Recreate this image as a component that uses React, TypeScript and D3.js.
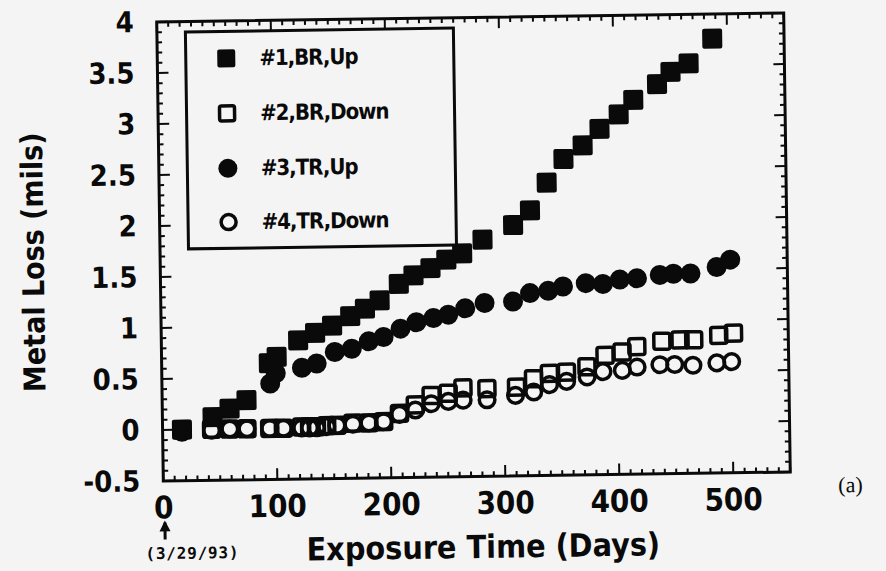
import React from "react";
import * as d3 from "d3";

// ---- data (days, metal loss in mils) ----
const days1 = [17, 44, 59, 74, 94, 101, 120, 135, 150, 166, 179, 192, 209, 222, 237, 251, 265, 283, 310, 325, 340, 355, 372, 387, 404, 417, 438, 450, 466, 487];
const loss1 = [0.0, 0.12, 0.2, 0.28, 0.64, 0.7, 0.86, 0.93, 1.0, 1.09, 1.16, 1.24, 1.4, 1.48, 1.55, 1.63, 1.69, 1.82, 1.96, 2.1, 2.37, 2.6, 2.73, 2.89, 3.03, 3.17, 3.32, 3.44, 3.52, 3.76];

const days2 = [17, 43, 59, 74, 94, 106, 122, 129, 135, 144, 153, 167, 181, 194, 208, 222, 236, 251, 264, 285, 311, 326, 340, 355, 373, 389, 404, 417, 439, 455, 467, 489, 502];
const loss2 = [0.0, 0.0, 0.0, 0.0, 0.0, 0.0, 0.01, 0.01, 0.01, 0.02, 0.02, 0.04, 0.04, 0.05, 0.13, 0.21, 0.3, 0.32, 0.37, 0.36, 0.37, 0.45, 0.5, 0.51, 0.56, 0.67, 0.7, 0.75, 0.8, 0.81, 0.81, 0.85, 0.87];

const days3 = [17, 95, 100, 123, 136, 152, 167, 182, 195, 210, 224, 239, 252, 267, 284, 309, 324, 340, 353, 373, 388, 403, 418, 438, 450, 465, 488, 500];
const loss3 = [-0.02, 0.44, 0.54, 0.59, 0.63, 0.74, 0.77, 0.84, 0.88, 0.96, 1.02, 1.06, 1.09, 1.15, 1.2, 1.21, 1.29, 1.31, 1.35, 1.38, 1.37, 1.41, 1.42, 1.45, 1.46, 1.46, 1.52, 1.59];

const days4 = [17, 43, 59, 74, 94, 106, 122, 129, 135, 144, 153, 167, 181, 194, 208, 222, 236, 251, 264, 285, 310, 326, 340, 355, 373, 387, 404, 417, 437, 450, 466, 487, 500];
const loss4 = [0.0, -0.01, 0.0, 0.0, 0.0, 0.0, 0.0, 0.0, 0.0, 0.01, 0.02, 0.03, 0.04, 0.05, 0.12, 0.16, 0.22, 0.24, 0.25, 0.25, 0.29, 0.32, 0.39, 0.42, 0.46, 0.51, 0.52, 0.55, 0.57, 0.57, 0.56, 0.58, 0.59];

const legendLabels = ["#1,BR,Up", "#2,BR,Down", "#3,TR,Up", "#4,TR,Down"];
const xTickValues = [0, 100, 200, 300, 400, 500];
const yTickValues = [-0.5, 0, 0.5, 1, 1.5, 2, 2.5, 3, 3.5, 4];
const xTitle = "Exposure Time (Days)";
const yTitle = "Metal Loss (mils)";
const startDate = "(3/29/93)";
const panelLabel = "(a)";

const W = 886;
const H = 571;
const INK = "#0a0a0a";
const BG = "#f4f4f4";
const PLOT = { left: 160, right: 787, top: 17.5, bottom: 476.5 };
const NUM_FONT = "'DejaVu Sans Condensed', 'DejaVu Sans', sans-serif";

export default function App() {
  const x = d3.scaleLinear().domain([0, 550]).range([PLOT.left, PLOT.right]);
  const y = d3.scaleLinear().domain([-0.5, 4]).range([PLOT.bottom, PLOT.top]);

  const xMinor = d3.range(0, 551, 10);
  const yMinor = d3.range(-5, 41, 1).map((v) => v / 10);
  const isMajorX = (v: number) => v % 100 === 0;
  const isMajorY = (v: number) => Math.abs(v * 2 - Math.round(v * 2)) < 1e-6;

  const sq = (cx: number, cy: number, s: number, key: string, filled: boolean) => (
    <rect
      key={key}
      x={cx - s / 2}
      y={cy - s / 2}
      width={s}
      height={s}
      rx={2}
      fill={filled ? INK : "none"}
      stroke={INK}
      strokeWidth={filled ? 0 : 3.5}
    />
  );
  const circ = (cx: number, cy: number, r: number, key: string, filled: boolean) => (
    <circle key={key} cx={cx} cy={cy} r={r} fill={filled ? INK : "none"} stroke={INK} strokeWidth={filled ? 0 : 3.5} />
  );

  const legendRows = [54.8, 109.8, 164.8, 218.6];
  const legendMarkers = [
    (cy: number) => sq(229, cy, 18, "lm1", true),
    (cy: number) => sq(229, cy, 15, "lm2", false),
    (cy: number) => circ(229, cy, 9.5, "lm3", true),
    (cy: number) => circ(229, cy, 7.5, "lm4", false),
  ];

  return (
    <svg width={W} height={H} style={{ position: "absolute", left: 0, top: 0, background: BG }}>
      <rect x={0} y={0} width={W} height={H} fill={BG} />
      <g transform="rotate(-0.82 473.5 247)">
        {/* data */}
        <g>
          {days1.map((d, i) => sq(x(d), y(loss1[i]), 20, "a" + i, true))}
          {days3.map((d, i) => circ(x(d), y(loss3[i]), 10, "c" + i, true))}
          {days2.map((d, i) => sq(x(d), y(loss2[i]), 16, "b" + i, false))}
          {days4.map((d, i) => circ(x(d), y(loss4[i]), 7.8, "d" + i, false))}
        </g>

        {/* frame */}
        <rect
          x={PLOT.left}
          y={PLOT.top}
          width={PLOT.right - PLOT.left}
          height={PLOT.bottom - PLOT.top}
          fill="none"
          stroke={INK}
          strokeWidth={3}
        />
        {/* x ticks (bottom & top, inward) */}
        {xMinor.map((v) => {
          const len = isMajorX(v) ? 11 : 5;
          return (
            <g key={"xt" + v}>
              <line x1={x(v)} x2={x(v)} y1={PLOT.bottom} y2={PLOT.bottom - len} stroke={INK} strokeWidth={2} />
              <line x1={x(v)} x2={x(v)} y1={PLOT.top} y2={PLOT.top + len} stroke={INK} strokeWidth={2} />
            </g>
          );
        })}
        {/* y ticks (left & right, inward) */}
        {yMinor.map((v) => {
          const len = isMajorY(v) ? 11 : 5;
          return (
            <g key={"yt" + v}>
              <line x1={PLOT.left} x2={PLOT.left + len} y1={y(v)} y2={y(v)} stroke={INK} strokeWidth={2} />
              <line x1={PLOT.right} x2={PLOT.right - len} y1={y(v)} y2={y(v)} stroke={INK} strokeWidth={2} />
            </g>
          );
        })}

        {/* tick labels */}
        {xTickValues.map((v) => (
          <text
            key={"xl" + v}
            x={x(v)}
            y={503}
            textAnchor="middle"
            dominantBaseline="central"
            fontFamily={NUM_FONT}
            fontWeight="bold"
            fontSize={31}
            fill={INK}
          >
            {v}
          </text>
        ))}
        {yTickValues.map((v) => (
          <text
            key={"yl" + v}
            x={137}
            y={y(v)}
            textAnchor="end"
            dominantBaseline="central"
            fontFamily={NUM_FONT}
            fontWeight="bold"
            fontSize={29}
            fill={INK}
          >
            {String(v)}
          </text>
        ))}

        {/* axis titles */}
        <text
          x={479}
          y={547}
          textAnchor="middle"
          dominantBaseline="central"
          fontFamily={NUM_FONT}
          fontWeight="bold"
          fontSize={32}
          fill={INK}
        >
          {xTitle}
        </text>
        <text
          transform="translate(33 256) rotate(-90)"
          textAnchor="middle"
          dominantBaseline="central"
          fontFamily={NUM_FONT}
          fontWeight="bold"
          fontSize={30}
          fill={INK}
        >
          {yTitle}
        </text>

        {/* start-date marker */}
        <line x1={161} x2={161} y1={518} y2={535} stroke={INK} strokeWidth={3} />
        <path d="M161,516 L155.5,527 L166.5,527 Z" fill={INK} />
        <text
          x={188}
          y={549}
          textAnchor="middle"
          dominantBaseline="central"
          fontFamily="'DejaVu Sans Mono', monospace"
          fontWeight="bold"
          fontSize={16}
          letterSpacing={0.8}
          fill={INK}
        >
          {startDate}
        </text>

        {/* legend */}
        <rect x={188.5} y={27.8} width={268} height={217} fill={BG} stroke={INK} strokeWidth={3} />
        {legendRows.map((cy, i) => (
          <g key={"lg" + i}>
            {legendMarkers[i](cy)}
            <text
              x={262}
              y={cy}
              dominantBaseline="central"
              fontFamily={NUM_FONT}
              fontWeight="bold"
              fontSize={22}
              letterSpacing={-1}
              fill={INK}
            >
              {legendLabels[i]}
            </text>
          </g>
        ))}

        {/* panel label */}
        <text
          x={847}
          y={490}
          textAnchor="middle"
          dominantBaseline="central"
          fontFamily="'Liberation Serif', 'DejaVu Serif', serif"
          fontSize={22}
          fill={INK}
        >
          {panelLabel}
        </text>
      </g>
    </svg>
  );
}
